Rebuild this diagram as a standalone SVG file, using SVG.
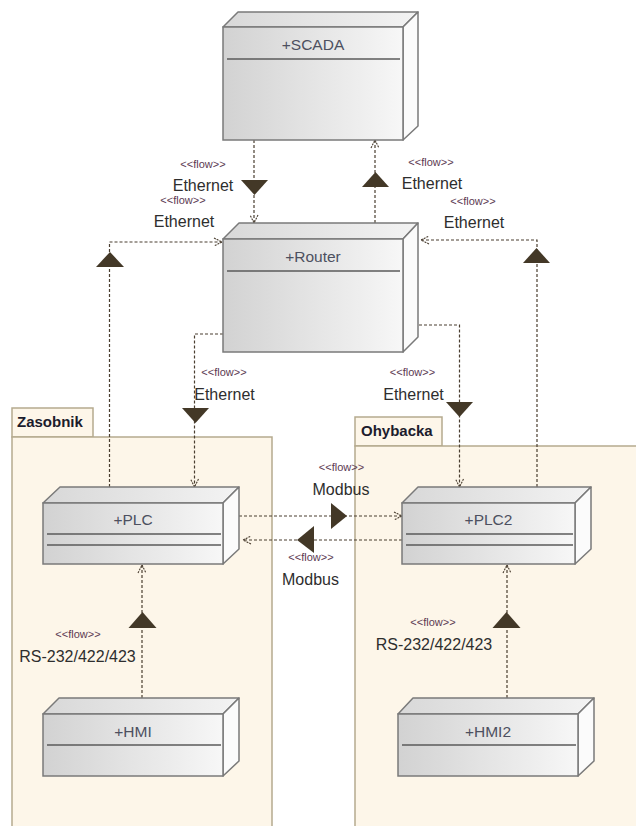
<svg xmlns="http://www.w3.org/2000/svg" width="636" height="826" viewBox="0 0 636 826">
  <defs>
    <linearGradient id="faceFront" x1="0" y1="0" x2="1" y2="0">
      <stop offset="0" stop-color="#d2d2d2"/>
      <stop offset="1" stop-color="#f7f7f7"/>
    </linearGradient>
    <linearGradient id="faceTop" x1="0" y1="0" x2="1" y2="0">
      <stop offset="0" stop-color="#d8d8d8"/>
      <stop offset="1" stop-color="#f3f3f3"/>
    </linearGradient>
    <marker id="open" viewBox="0 0 10 10" refX="9" refY="5" markerWidth="10" markerHeight="10" markerUnits="userSpaceOnUse" orient="auto">
      <path d="M1,1 L9,5 L1,9" fill="none" stroke="#4a3e30" stroke-width="1.1" stroke-dasharray="2,1"/>
    </marker>
  </defs>
  <style>
    .pkg { fill: #fdf6e9; stroke: #b5aa8e; stroke-width: 1.5; }
    .pkgname { font-family: "Liberation Sans", Arial, sans-serif; font-size: 15px; font-weight: bold; fill: #1c1c2c; }
    .front { fill: url(#faceFront); stroke: #7a7a7a; stroke-width: 1.5; }
    .top { fill: url(#faceTop); stroke: #7a7a7a; stroke-width: 1.5; stroke-linejoin: round; }
    .side { fill: #fbfbfb; stroke: #7a7a7a; stroke-width: 1.5; stroke-linejoin: round; }
    .div { stroke: #5a5a5a; stroke-width: 1.3; }
    .name { font-family: "Liberation Sans", Arial, sans-serif; font-size: 15.5px; fill: #4d5060; text-anchor: middle; }
    .flow { fill: none; stroke: #4a3e30; stroke-width: 1.2; stroke-dasharray: 3,2; marker-end: url(#open); }
    .tri { fill: #433827; }
    .st { font-family: "Liberation Sans", Arial, sans-serif; font-size: 11px; fill: #5c3a52; text-anchor: middle; }
    .lbl { font-family: "Liberation Sans", Arial, sans-serif; font-size: 16px; fill: #2e2e2e; text-anchor: middle; }
  </style>
  <rect width="636" height="826" fill="#ffffff"/>

  <!-- packages -->
  <g id="Zasobnik">
    <rect class="pkg" x="12" y="408" width="81" height="29"/>
    <rect class="pkg" x="12" y="437" width="260" height="395"/>
    <text class="pkgname" x="17" y="427">Zasobnik</text>
  </g>
  <g id="Ohybacka">
    <rect class="pkg" x="355" y="417" width="87" height="29"/>
    <rect class="pkg" x="355" y="446" width="290" height="386"/>
    <text class="pkgname" x="361" y="436">Ohybacka</text>
  </g>

  <!-- flows -->
  <g id="connectors">
    <!-- SCADA to Router -->
    <path class="flow" d="M254,140 V223"/>
    <polygon class="tri" points="241,180 268,180 254.5,195"/>
    <text class="st" x="203" y="168">&lt;&lt;flow&gt;&gt;</text>
    <text class="lbl" x="203" y="191">Ethernet</text>

    <!-- Router to SCADA -->
    <path class="flow" d="M375,223 V140"/>
    <polygon class="tri" points="362,187 389,187 375.5,172"/>
    <text class="st" x="431" y="166">&lt;&lt;flow&gt;&gt;</text>
    <text class="lbl" x="432" y="189">Ethernet</text>

    <!-- PLC to Router -->
    <path class="flow" d="M109.5,487 V242 H222"/>
    <polygon class="tri" points="96,267 124,267 110,252"/>
    <text class="st" x="183" y="204">&lt;&lt;flow&gt;&gt;</text>
    <text class="lbl" x="184" y="227">Ethernet</text>

    <!-- PLC2 to Router -->
    <path class="flow" d="M537,487 V240 H421"/>
    <polygon class="tri" points="523,263 550,263 536.5,248"/>
    <text class="st" x="473" y="205">&lt;&lt;flow&gt;&gt;</text>
    <text class="lbl" x="474" y="228">Ethernet</text>

    <!-- Router to PLC -->
    <path class="flow" d="M223,334 H194.5 V487"/>
    <polygon class="tri" points="182,408 209,408 195.5,423"/>
    <text class="st" x="224" y="376">&lt;&lt;flow&gt;&gt;</text>
    <text class="lbl" x="224.5" y="400">Ethernet</text>

    <!-- Router to PLC2 -->
    <path class="flow" d="M419,325 H459.5 V487"/>
    <polygon class="tri" points="446,402 473,402 459.5,417"/>
    <text class="st" x="412.5" y="376">&lt;&lt;flow&gt;&gt;</text>
    <text class="lbl" x="413.5" y="400">Ethernet</text>

    <!-- PLC to PLC2 -->
    <path class="flow" d="M239,516 H402"/>
    <polygon class="tri" points="331,503 331,529 347,516"/>
    <text class="st" x="341.5" y="471">&lt;&lt;flow&gt;&gt;</text>
    <text class="lbl" x="341" y="495">Modbus</text>

    <!-- PLC2 to PLC -->
    <path class="flow" d="M402,540 H243"/>
    <polygon class="tri" points="314,526 314,553 297,540"/>
    <text class="st" x="311" y="561">&lt;&lt;flow&gt;&gt;</text>
    <text class="lbl" x="310.5" y="585">Modbus</text>

    <!-- HMI to PLC -->
    <path class="flow" d="M142,698 V565"/>
    <polygon class="tri" points="128.5,628 156.5,628 142.5,612"/>
    <text class="st" x="78" y="638">&lt;&lt;flow&gt;&gt;</text>
    <text class="lbl" x="77.5" y="662">RS-232/422/423</text>

    <!-- HMI2 to PLC2 -->
    <path class="flow" d="M507,698 V565"/>
    <polygon class="tri" points="492.5,628 520.5,628 506.5,612"/>
    <text class="st" x="433" y="626">&lt;&lt;flow&gt;&gt;</text>
    <text class="lbl" x="434" y="650">RS-232/422/423</text>
  </g>

  <!-- nodes -->
  <g id="SCADA">
    <polygon class="top" points="223,27 238,12 418,12 403,27"/>
    <polygon class="side" points="403,27 418,12 418,126 403,140"/>
    <rect class="front" x="223" y="27" width="180" height="113"/>
    <line class="div" x1="227" y1="59" x2="400" y2="59"/>
    <text class="name" x="313" y="50">+SCADA</text>
  </g>

  <g id="Router">
    <polygon class="top" points="223,239 239,223 418,223 403,239"/>
    <polygon class="side" points="403,239 418,223 418,337 403,352"/>
    <rect class="front" x="223" y="239" width="180" height="113"/>
    <line class="div" x1="227" y1="271" x2="400" y2="271"/>
    <text class="name" x="313" y="262">+Router</text>
  </g>

  <g id="PLC">
    <polygon class="top" points="43,503 60,487 239,487 223,503"/>
    <polygon class="side" points="223,503 239,487 239,549 223,564"/>
    <rect class="front" x="43" y="503" width="180" height="61"/>
    <line class="div" x1="47" y1="534" x2="221" y2="534"/>
    <line class="div" x1="47" y1="545" x2="221" y2="545"/>
    <text class="name" x="133" y="525">+PLC</text>
  </g>

  <g id="PLC2">
    <polygon class="top" points="402,503 418,487 591,487 575,503"/>
    <polygon class="side" points="575,503 591,487 591,549 575,564"/>
    <rect class="front" x="402" y="503" width="173" height="61"/>
    <line class="div" x1="406" y1="534" x2="573" y2="534"/>
    <line class="div" x1="406" y1="545" x2="573" y2="545"/>
    <text class="name" x="488.5" y="525">+PLC2</text>
  </g>

  <g id="HMI">
    <polygon class="top" points="43,714 59,698 239,698 223,714"/>
    <polygon class="side" points="223,714 239,698 239,761 223,776"/>
    <rect class="front" x="43" y="714" width="180" height="62"/>
    <line class="div" x1="47" y1="745" x2="221" y2="745"/>
    <text class="name" x="133" y="737">+HMI</text>
  </g>

  <g id="HMI2">
    <polygon class="top" points="398,714 413,698 594,698 578,714"/>
    <polygon class="side" points="578,714 594,698 594,761 578,776"/>
    <rect class="front" x="398" y="714" width="180" height="62"/>
    <line class="div" x1="402" y1="745" x2="576" y2="745"/>
    <text class="name" x="488" y="737">+HMI2</text>
  </g>
</svg>
